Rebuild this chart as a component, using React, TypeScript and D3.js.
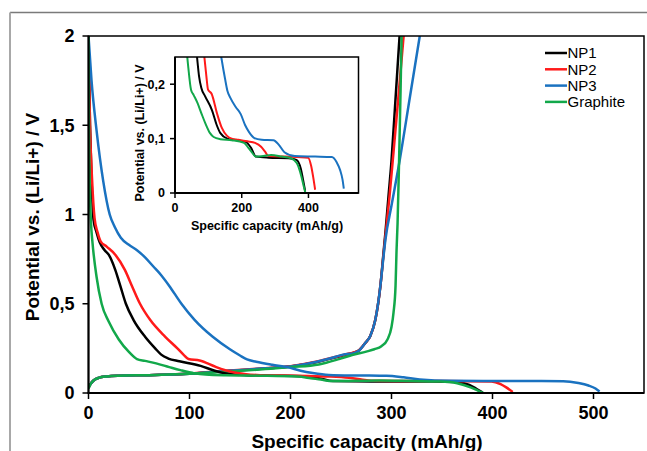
import React from 'react';
import * as d3 from 'd3';

type Pt = [number, number];

const seriesNames = ['NP1', 'NP2', 'NP3', 'Graphite'];
const seriesColors = ['#000000', '#ff1a1a', '#1a72c0', '#12a84a'];

// Discharge (lithiation) curves: [capacity mAh/g, potential V]
const np1Discharge: Pt[] = [
  [0, 2.0], [1.5, 1.5], [3, 1.2], [5, 0.97], [8, 0.9], [11, 0.845], [16, 0.8], [20, 0.775],
  [26.5, 0.69], [31.5, 0.6], [37, 0.5], [44.5, 0.41], [56, 0.315], [66, 0.25], [72, 0.215],
  [79, 0.193], [90, 0.178], [111, 0.152], [125, 0.125], [136, 0.11], [157, 0.1], [185, 0.097],
  [212, 0.094], [228, 0.083], [242, 0.067], [280, 0.065], [340, 0.064], [364, 0.061],
  [377, 0.045], [384, 0.024], [390, 0.004],
];
const np2Discharge: Pt[] = [
  [0, 2.0], [1.5, 1.5], [3.5, 1.2], [6, 0.98], [9, 0.9], [12, 0.85], [18, 0.82], [26.5, 0.775],
  [36, 0.69], [43, 0.6], [51, 0.5], [61, 0.41], [76, 0.315], [88, 0.25], [94, 0.215],
  [99, 0.19], [110, 0.182], [126, 0.146], [140, 0.12], [156, 0.105], [170, 0.1], [190, 0.098],
  [217, 0.095], [240, 0.092], [258, 0.085], [270, 0.076], [280, 0.068], [330, 0.067],
  [399, 0.065], [408, 0.05], [414, 0.03], [420, 0.006],
];
const np3Discharge: Pt[] = [
  [0, 2.0], [3, 1.75], [8, 1.47], [14.5, 1.19], [21, 1.0], [26, 0.93], [32, 0.87], [40, 0.83],
  [48, 0.8], [56, 0.76], [64, 0.71], [72, 0.66], [80, 0.6], [92, 0.5], [105, 0.41],
  [123, 0.315], [140, 0.245], [150, 0.21], [157, 0.188], [166, 0.175], [182, 0.158],
  [197, 0.145], [210, 0.125], [222, 0.112], [238, 0.101], [260, 0.098], [295, 0.097],
  [312, 0.088], [328, 0.075], [359, 0.068], [420, 0.067], [470, 0.066], [485, 0.056],
  [495, 0.042], [502, 0.025], [506, 0.008],
];
const graphiteDischarge: Pt[] = [
  [0, 2.0], [0.5, 1.5], [1.5, 1.1], [2.5, 0.95], [4, 0.84], [8, 0.65], [13, 0.5], [20, 0.4],
  [30, 0.3], [40, 0.23], [48, 0.19], [56, 0.18], [67, 0.166], [80, 0.145], [91, 0.128],
  [105, 0.11], [116, 0.103], [136, 0.099], [170, 0.097], [207, 0.092], [220, 0.083],
  [230, 0.075], [242, 0.067], [265, 0.068], [288, 0.07], [320, 0.067], [348, 0.064],
  [365, 0.055], [379, 0.03], [386, 0.012], [391, 0.0],
];

// Charge (delithiation) curves
const np1Charge: Pt[] = [
  [0, 0.03], [2, 0.05], [5, 0.07], [10, 0.085], [18, 0.093], [30, 0.097], [60, 0.1],
  [100, 0.108], [140, 0.124], [175, 0.137], [200, 0.148], [225, 0.172], [245, 0.2],
  [255, 0.215], [262, 0.225], [268, 0.24], [274, 0.28], [279, 0.32], [284, 0.41],
  [289, 0.6], [292, 0.78], [294, 0.9], [297, 1.1], [300, 1.3], [304, 1.65], [308, 2.0],
];
const np2Charge: Pt[] = [
  [0, 0.03], [2, 0.05], [5, 0.07], [10, 0.085], [18, 0.093], [30, 0.097], [60, 0.1],
  [100, 0.109], [140, 0.126], [175, 0.139], [200, 0.15], [225, 0.175], [245, 0.203],
  [255, 0.217], [262, 0.226], [268, 0.24], [274, 0.28], [279, 0.32], [284, 0.41],
  [289, 0.6], [292, 0.77], [294, 0.88], [298, 1.1], [302, 1.35], [307, 1.67], [312, 2.0],
];
const np3Charge: Pt[] = [
  [0, 0.03], [2, 0.05], [5, 0.07], [10, 0.085], [18, 0.093], [30, 0.097], [60, 0.1],
  [100, 0.108], [140, 0.125], [175, 0.138], [200, 0.149], [225, 0.174], [245, 0.203],
  [252, 0.215], [262, 0.222], [268, 0.238], [274, 0.28], [279, 0.32], [284, 0.41],
  [289, 0.6], [292, 0.76], [294, 0.86], [300, 1.05], [308, 1.3], [318, 1.65], [328, 2.0],
];
const graphiteCharge: Pt[] = [
  [0, 0.025], [2, 0.05], [5, 0.07], [10, 0.085], [18, 0.093], [30, 0.097], [60, 0.1],
  [100, 0.108], [140, 0.12], [175, 0.134], [200, 0.145], [228, 0.16], [248, 0.19],
  [261, 0.213], [275, 0.232], [283, 0.245], [290, 0.262], [296, 0.3], [300, 0.37],
  [302, 0.45], [304, 0.6], [305, 0.8], [306, 0.95], [307.5, 1.3], [309, 1.7], [310, 2.0],
];

const dischargeSeries = [np1Discharge, np2Discharge, np3Discharge, graphiteDischarge];
const chargeSeries = [np1Charge, np2Charge, np3Charge, graphiteCharge];

const xTicks = [0, 100, 200, 300, 400, 500];
const yTicks = [0, 0.5, 1, 1.5, 2];
const insetXTicks = [0, 200, 400];
const insetYTicks = [0, 0.1, 0.2];

const FONT = 'Arial, "Liberation Sans", Helvetica, sans-serif';
const fmt = (v: number) => String(v).replace('.', ',');

export default function App() {
  const W = 647, H = 451;
  const main = { left: 88.5, right: 644, top: 36, bottom: 393 };
  const ins = { left: 175, right: 358.5, top: 57, bottom: 193 };

  const x = d3.scaleLinear().domain([0, 550]).range([main.left, main.right]);
  const y = d3.scaleLinear().domain([0, 2]).range([main.bottom, main.top]);
  const xi = d3.scaleLinear().domain([0, 550]).range([ins.left, ins.right]);
  const yi = d3.scaleLinear().domain([0, 0.25]).range([ins.bottom, ins.top]);

  const line = d3.line<Pt>().x(d => x(d[0])).y(d => y(d[1])).curve(d3.curveMonotoneX);
  const lineI = d3.line<Pt>().x(d => xi(d[0])).y(d => yi(d[1])).curve(d3.curveMonotoneX);

  return (
    <svg width={W} height={H} style={{ position: 'absolute', left: 0, top: 0, background: '#fff' }}
      fontFamily={FONT}>
      <defs>
        <clipPath id="mainClip">
          <rect x={main.left} y={main.top} width={main.right - main.left} height={main.bottom - main.top} />
        </clipPath>
        <clipPath id="insClip">
          <rect x={ins.left} y={ins.top} width={ins.right - ins.left} height={ins.bottom - ins.top} />
        </clipPath>
      </defs>
      <rect x={0} y={0} width={W} height={H} fill="#fff" />
      {/* outer frame */}
      <line x1={10} y1={12.5} x2={W} y2={12.5} stroke="#7a7a7a" strokeWidth={1.5} />
      <line x1={10} y1={12.5} x2={10} y2={H} stroke="#a8a8a8" strokeWidth={2} />

      {/* main curves */}
      <g clipPath="url(#mainClip)">
        {chargeSeries.map((s, i) => (
          <path key={'c' + i} d={line(s) || ''} fill="none" stroke={seriesColors[i]} strokeWidth={2.5} />
        ))}
        {dischargeSeries.map((s, i) => (
          <path key={'d' + i} d={line(s) || ''} fill="none" stroke={seriesColors[i]} strokeWidth={2.5} />
        ))}
      </g>

      {/* main box */}
      <rect x={main.left} y={main.top} width={main.right - main.left} height={main.bottom - main.top}
        fill="none" stroke="#000" strokeWidth={1.5} />
      <line x1={main.left} y1={main.top} x2={main.left} y2={main.bottom} stroke="#000" strokeWidth={2} />
      <line x1={main.left - 1} y1={main.bottom} x2={main.right} y2={main.bottom} stroke="#000" strokeWidth={2} />

      {yTicks.map(t => (
        <g key={'yt' + t}>
          <line x1={main.left - 6} x2={main.left} y1={y(t)} y2={y(t)} stroke="#000" strokeWidth={1.5} />
          <text x={main.left - 14} y={y(t)} dy="0.35em" textAnchor="end" fontSize={18} fontWeight="bold">{fmt(t)}</text>
        </g>
      ))}
      {xTicks.map(t => (
        <g key={'xt' + t}>
          <line x1={x(t)} x2={x(t)} y1={main.bottom} y2={main.bottom + 6} stroke="#000" strokeWidth={1.5} />
          <text x={x(t)} y={main.bottom + 26} textAnchor="middle" fontSize={18} fontWeight="bold">{t}</text>
        </g>
      ))}
      <text x={367} y={448} textAnchor="middle" fontSize={19} fontWeight="bold">Specific capacity (mAh/g)</text>
      <text transform={`translate(38.5,217) rotate(-90)`} textAnchor="middle" fontSize={19} fontWeight="bold">
        Potential vs. (Li/Li+) / V
      </text>

      {/* legend */}
      {seriesNames.map((n, i) => (
        <g key={'lg' + i} transform={`translate(545, ${53 + i * 16.3})`}>
          <line x1={0} x2={22} y1={0} y2={0} stroke={seriesColors[i]} strokeWidth={2.5} />
          <text x={22.5} y={0} dy="0.35em" fontSize={15}>{n}</text>
        </g>
      ))}

      {/* inset */}
      <rect x={ins.left} y={ins.top} width={ins.right - ins.left} height={ins.bottom - ins.top} fill="#fff" />
      <g clipPath="url(#insClip)">
        {dischargeSeries.map((s, i) => (
          <path key={'i' + i} d={lineI(s) || ''} fill="none" stroke={seriesColors[i]} strokeWidth={2} />
        ))}
      </g>
      <rect x={ins.left} y={ins.top} width={ins.right - ins.left} height={ins.bottom - ins.top}
        fill="none" stroke="#000" strokeWidth={1.5} />
      <line x1={ins.left} y1={ins.top} x2={ins.left} y2={ins.bottom} stroke="#000" strokeWidth={2} />
      <line x1={ins.left} y1={ins.bottom} x2={ins.right} y2={ins.bottom} stroke="#000" strokeWidth={2} />
      {insetYTicks.map(t => (
        <g key={'iyt' + t}>
          <line x1={ins.left - 5} x2={ins.left} y1={yi(t)} y2={yi(t)} stroke="#000" strokeWidth={1.5} />
          <text x={ins.left - 10} y={yi(t)} dy="0.35em" textAnchor="end" fontSize={12.5} fontWeight="bold">{fmt(t)}</text>
        </g>
      ))}
      {insetXTicks.map(t => (
        <g key={'ixt' + t}>
          <line x1={xi(t)} x2={xi(t)} y1={ins.bottom} y2={ins.bottom + 5} stroke="#000" strokeWidth={1.5} />
          <text x={xi(t)} y={ins.bottom + 19} textAnchor="middle" fontSize={12.5} fontWeight="bold">{t}</text>
        </g>
      ))}
      <text x={267} y={230} textAnchor="middle" fontSize={12.5} fontWeight="bold">Specific capacity (mAh/g)</text>
      <text transform={`translate(143.5,133) rotate(-90)`} textAnchor="middle" fontSize={12.5} fontWeight="bold">
        Potential vs. (Li/Li+) / V
      </text>
    </svg>
  );
}
